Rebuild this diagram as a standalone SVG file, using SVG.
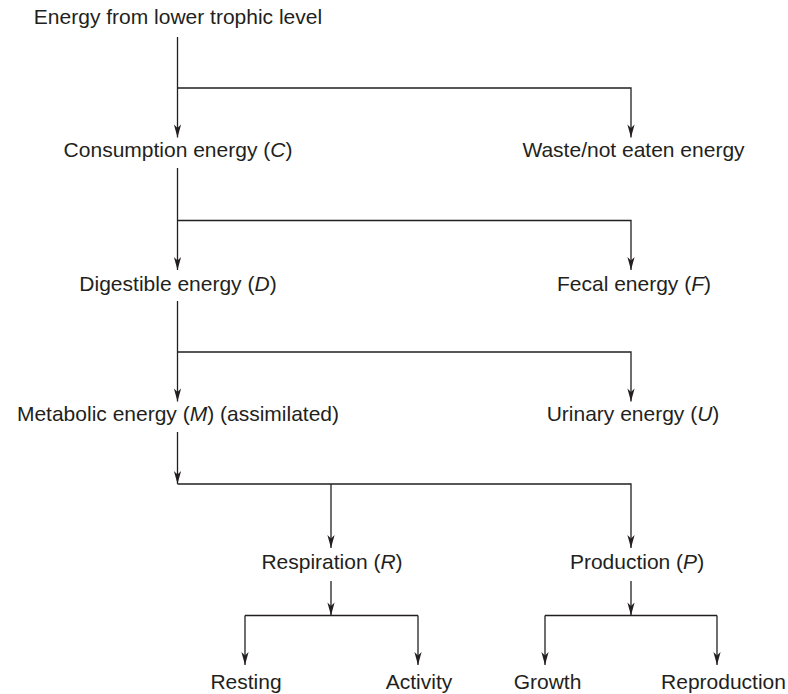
<svg xmlns="http://www.w3.org/2000/svg" width="788" height="694" viewBox="0 0 788 694">
  <style>
    .lbl { font-family: "Liberation Sans", Arial, sans-serif; font-size: 21px; fill: #231f20; text-anchor: middle; }
    .it { font-style: italic; }
    .ln { fill: none; stroke: #231f20; stroke-width: 1.3; }
  </style>
  <defs>
    <marker id="arr" markerUnits="userSpaceOnUse" markerWidth="16" markerHeight="10" viewBox="-14 -5 16 10" refX="0" refY="0" orient="auto">
      <path d="M0,0 L-13,-3.6 L-9.5,0 L-13,3.6 Z" fill="#231f20"/>
    </marker>
  </defs>
  <rect width="788" height="694" fill="#ffffff"/>

  <g id="connectors">
    <line class="ln" x1="177.5" y1="37" x2="177.5" y2="137.5" marker-end="url(#arr)"/>
    <polyline class="ln" points="177.5,88 631,88 631,137.5" marker-end="url(#arr)"/>

    <line class="ln" x1="177.5" y1="168" x2="177.5" y2="270" marker-end="url(#arr)"/>
    <polyline class="ln" points="177.5,220.5 631,220.5 631,270" marker-end="url(#arr)"/>

    <line class="ln" x1="177.5" y1="301" x2="177.5" y2="401.5" marker-end="url(#arr)"/>
    <polyline class="ln" points="177.5,352 631,352 631,401.5" marker-end="url(#arr)"/>

    <line class="ln" x1="177.5" y1="432" x2="177.5" y2="484" marker-end="url(#arr)"/>
    <polyline class="ln" points="177.5,484 631,484 631,548" marker-end="url(#arr)"/>
    <line class="ln" x1="331" y1="484" x2="331" y2="548" marker-end="url(#arr)"/>

    <line class="ln" x1="331" y1="581" x2="331" y2="615.5" marker-end="url(#arr)"/>
    <line class="ln" x1="245" y1="615.5" x2="418" y2="615.5"/>
    <line class="ln" x1="245" y1="615.5" x2="245" y2="665" marker-end="url(#arr)"/>
    <line class="ln" x1="418" y1="615.5" x2="418" y2="665" marker-end="url(#arr)"/>

    <line class="ln" x1="631" y1="581" x2="631" y2="615.5" marker-end="url(#arr)"/>
    <line class="ln" x1="545" y1="615.5" x2="717" y2="615.5"/>
    <line class="ln" x1="545" y1="615.5" x2="545" y2="665" marker-end="url(#arr)"/>
    <line class="ln" x1="717" y1="615.5" x2="717" y2="665" marker-end="url(#arr)"/>
  </g>

  <g id="node-source"><text class="lbl" x="178" y="24">Energy from lower trophic level</text></g>
  <g id="node-consumption"><text class="lbl" x="178" y="157">Consumption energy (<tspan class="it">C</tspan>)</text></g>
  <g id="node-waste"><text class="lbl" x="633.5" y="157">Waste/not eaten energy</text></g>
  <g id="node-digestible"><text class="lbl" x="178" y="291">Digestible energy (<tspan class="it">D</tspan>)</text></g>
  <g id="node-fecal"><text class="lbl" x="634" y="291">Fecal energy (<tspan class="it">F</tspan>)</text></g>
  <g id="node-metabolic"><text class="lbl" x="178" y="421">Metabolic energy (<tspan class="it">M</tspan>) (assimilated)</text></g>
  <g id="node-urinary"><text class="lbl" x="633" y="421">Urinary energy (<tspan class="it">U</tspan>)</text></g>
  <g id="node-respiration"><text class="lbl" x="332" y="569">Respiration (<tspan class="it">R</tspan>)</text></g>
  <g id="node-production"><text class="lbl" x="637" y="569">Production (<tspan class="it">P</tspan>)</text></g>
  <g id="node-resting"><text class="lbl" x="246" y="689">Resting</text></g>
  <g id="node-activity"><text class="lbl" x="419" y="689">Activity</text></g>
  <g id="node-growth"><text class="lbl" x="547.5" y="689">Growth</text></g>
  <g id="node-reproduction"><text class="lbl" x="723.5" y="689">Reproduction</text></g>
</svg>
